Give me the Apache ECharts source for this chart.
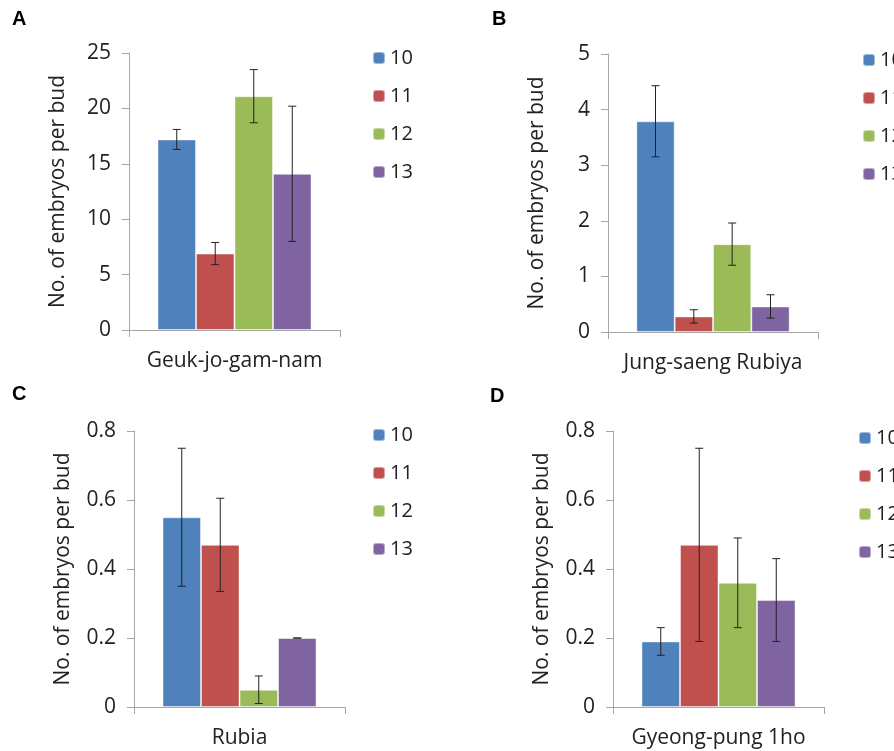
<!DOCTYPE html>
<html>
<head>
<meta charset="utf-8">
<script src="https://cdn.jsdelivr.net/npm/echarts@6/dist/echarts.min.js"></script>
<style>
html, body { margin: 0; padding: 0; background: #fff; }
#chart { width: 894px; height: 751px; }
</style>
</head>
<body>
<div id="chart"></div>
<script>
// sampling weeks (legend) and cultivars (one per panel)
const groups = ['10', '11', '12', '13']
const cultivars = ['Geuk-jo-gam-nam', 'Jung-saeng Rubiya', 'Rubia', 'Gyeong-pung 1ho']
const panelLetters = ['A', 'B', 'C', 'D']

// mean embryos per bud and error, per panel
const meansA = [17.2, 6.9, 21.1, 14.1]
const errA = [0.9, 1.0, 2.4, 6.1]
const meansB = [3.79, 0.28, 1.58, 0.46]
const errB = [0.64, 0.12, 0.38, 0.21]
const meansC = [0.55, 0.47, 0.05, 0.2]
const errC = [0.2, 0.135, 0.04, 0]
const meansD = [0.19, 0.47, 0.36, 0.31]
const errD = [0.04, 0.28, 0.13, 0.12]

// y axis ranges
const yMax = [25, 5, 0.8, 0.8]
const yStep = [5, 1, 0.2, 0.2]

const means = [meansA, meansB, meansC, meansD]
const errs = [errA, errB, errC, errD]

const colors = ['#4F81BD', '#C0504D', '#9BBB59', '#8064A2']
const font = '"Open Sans", "Noto Sans", sans-serif'
const CAT_GAP = 0.27

// plot boxes [left, top, width, height]
const boxes = [
    [129, 53, 211, 277],
    [608, 54, 210, 278],
    [134, 431, 211, 276],
    [613, 431, 211, 276]
]
const legendPos = [[367, 42], [857, 44], [367, 419], [853, 422]]
const letterPos = [[12, 9], [492, 9], [12, 384], [490, 386]]

const chart = echarts.init(document.getElementById('chart'))

const grid = boxes.map(b => ({ left: b[0], top: b[1], width: b[2], height: b[3], containLabel: false }))

const axisGray = '#a6a6a6'

const xAxis = cultivars.map((c, p) => ({
    type: 'category',
    gridIndex: p,
    data: [c],
    axisLine: { lineStyle: { color: axisGray } },
    axisTick: { show: true, length: 7, lineStyle: { color: axisGray } },
    axisLabel: { color: '#222', fontSize: 21, fontFamily: font, margin: 21 }
}))

const yAxis = cultivars.map((c, p) => ({
    type: 'value',
    gridIndex: p,
    min: 0,
    max: yMax[p],
    interval: yStep[p],
    name: 'No. of embryos per bud',
    nameLocation: 'middle',
    nameRotate: 90,
    nameGap: 60,
    nameTextStyle: { color: '#222', fontSize: 21, fontFamily: font },
    splitLine: { show: false },
    axisLine: { show: true, lineStyle: { color: axisGray } },
    axisTick: { show: true, length: 7, lineStyle: { color: axisGray } },
    axisLabel: { color: '#222', fontSize: 21, fontFamily: font, margin: 18 }
}))

const series = []
cultivars.forEach((c, p) => {
    groups.forEach((g, i) => {
        series.push({
            type: 'bar',
            name: g,
            xAxisIndex: p,
            yAxisIndex: p,
            data: [means[p][i]],
            barGap: '0%',
            barCategoryGap: CAT_GAP * 100 + '%',
            itemStyle: { color: colors[i], borderColor: 'rgba(255,255,255,0.45)', borderWidth: 1 },
            silent: true
        })
    })
    series.push({
        type: 'custom',
        xAxisIndex: p,
        yAxisIndex: p,
        z: 10,
        silent: true,
        data: groups.map((g, i) => [0, means[p][i], errs[p][i], i]),
        renderItem: (params, api) => {
            const m = api.value(1)
            const e = api.value(2)
            const i = api.value(3)
            const band = api.size([1, 0])[0]
            const barW = band * (1 - CAT_GAP) / groups.length
            const cx = api.coord([0, 0])[0] + (i - (groups.length - 1) / 2) * barW
            const yt = api.coord([0, m + e])[1]
            const yb = api.coord([0, m - e])[1]
            const style = { stroke: '#222', lineWidth: 1 }
            return {
                type: 'group',
                children: [
                    { type: 'line', shape: { x1: cx, y1: yt, x2: cx, y2: yb }, style },
                    { type: 'line', shape: { x1: cx - 4, y1: yt, x2: cx + 4, y2: yt }, style },
                    { type: 'line', shape: { x1: cx - 4, y1: yb, x2: cx + 4, y2: yb }, style }
                ]
            }
        }
    })
})

const legend = legendPos.map(pos => ({
    data: groups,
    orient: 'vertical',
    left: pos[0],
    top: pos[1],
    itemWidth: 12,
    itemHeight: 12,
    itemGap: 16,
    selectedMode: false,
    textStyle: { color: '#222', fontSize: 20, fontFamily: font, lineHeight: 22 }
}))

const title = panelLetters.map((l, p) => ({
    text: l,
    left: letterPos[p][0],
    top: letterPos[p][1],
    padding: 0,
    textStyle: { fontSize: 20, fontWeight: 'bold', color: '#000', fontFamily: 'Arial, "Liberation Sans", sans-serif' }
}))

chart.setOption({
    animation: false,
    color: colors,
    title,
    legend,
    grid,
    xAxis,
    yAxis,
    series
})
</script>
</body>
</html>
